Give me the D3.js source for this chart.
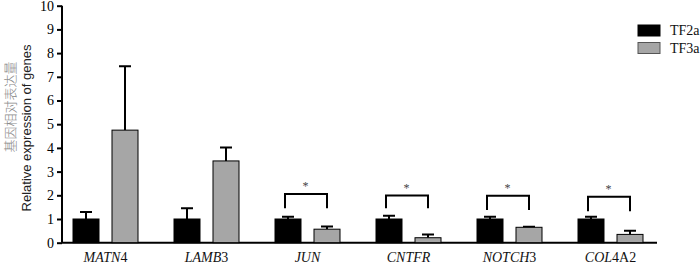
<!DOCTYPE html>
<html>
<head>
<meta charset="utf-8">
<script src="https://cdn.jsdelivr.net/npm/d3@7"></script>
<style>
  body { margin: 0; background: #fff; }
  text { font-family: "Liberation Serif", "Times New Roman", serif; }
</style>
</head>
<body>
<div id="chart"></div>
<script>
// Relative expression of genes, TF2a vs TF3a

const width = 700, height = 265;

const genes = ["MATN4", "LAMB3", "JUN", "CNTFR", "NOTCH3", "COL4A2"];
// italic part / upright part of each gene label
const geneItalic = ["MATN", "LAMB", "JUN", "CNTFR", "NOTCH", "COL"];
const geneUpright = ["4", "3", "", "", "3", "4A2"];
const series = ["TF2a", "TF3a"];
const tf2aValues = [1.0, 1.0, 1.0, 1.0, 1.0, 1.0];
const tf2aErrors = [0.3, 0.45, 0.1, 0.14, 0.1, 0.1];
const tf3aValues = [4.75, 3.45, 0.57, 0.21, 0.65, 0.35];
const tf3aErrors = [2.7, 0.57, 0.11, 0.14, 0.02, 0.15];
const significant = [false, false, true, true, true, true];
const bracketTop = [0, 0, 2.06, 1.99, 1.98, 1.94];
const bracketLeg = [0, 0, 1.45, 1.45, 1.38, 1.33];
const yTicks = [0, 1, 2, 3, 4, 5, 6, 7, 8, 9, 10];

const margin = { top: 6, left: 62, bottom: 22 };
const colors = { TF2a: "#000", TF3a: "#a6a6a6" };

const svg = d3.select("#chart")
  .append("svg")
  .attr("width", width)
  .attr("height", height);

const y = d3.scaleLinear()
  .domain([0, 10])
  .range([242.7, 5.7]);

const x = d3.scaleBand()
  .domain(genes)
  .range([55, 661]);

const barW = 26, offset = 19.5;

const data = genes.map((g, i) => ({
  gene: g, i,
  bars: [
    { key: "TF2a", value: tf2aValues[i], err: tf2aErrors[i], dx: -offset },
    { key: "TF3a", value: tf3aValues[i], err: tf3aErrors[i], dx: offset }
  ]
}));

const cx = (d, b) => x(d.gene) + x.bandwidth() / 2 + b.dx;

// y axis
const yAxis = svg.append("g")
  .attr("transform", `translate(${margin.left},0)`)
  .call(d3.axisLeft(y).tickValues(yTicks).tickSize(5).tickPadding(3));
yAxis.select(".domain").attr("stroke-width", 2).attr("d", `M0,${y(0)}V${y(10)}`);
yAxis.selectAll(".tick line").attr("stroke-width", 2);
yAxis.selectAll(".tick text")
  .attr("font-size", 14)
  .attr("fill", "#000");

// x axis line
svg.append("line")
  .attr("x1", margin.left).attr("x2", 657)
  .attr("y1", y(0)).attr("y2", y(0))
  .attr("stroke", "#000").attr("stroke-width", 2);

const groups = svg.append("g")
  .selectAll("g")
  .data(data)
  .join("g");

// error bars (behind the bars)
groups.selectAll("path.err")
  .data(d => d.bars.map(b => ({ ...b, cx: cx(d, b) })))
  .join("path")
  .attr("class", "err")
  .attr("d", b => `M${b.cx},${y(b.value)}V${y(b.value + b.err)}M${b.cx - 6},${y(b.value + b.err)}H${b.cx + 6}`)
  .attr("stroke", "#000")
  .attr("stroke-width", 2)
  .attr("fill", "none");

groups.selectAll("rect")
  .data(d => d.bars.map(b => ({ ...b, cx: cx(d, b) })))
  .join("rect")
  .attr("x", b => b.cx - barW / 2)
  .attr("y", b => y(b.value))
  .attr("width", barW)
  .attr("height", b => y(0) - y(b.value))
  .attr("fill", b => colors[b.key])
  .attr("stroke", "#000")
  .attr("stroke-width", 1);

// significance brackets
const sig = data.filter(d => significant[d.i]);
svg.append("g")
  .selectAll("path")
  .data(sig)
  .join("path")
  .attr("d", d => {
    const l = cx(d, d.bars[0]) - 3, r = cx(d, d.bars[1]);
    return `M${l},${y(bracketLeg[d.i])}V${y(bracketTop[d.i])}H${r}V${y(bracketLeg[d.i])}`;
  })
  .attr("stroke", "#000")
  .attr("stroke-width", 2)
  .attr("fill", "none");

svg.append("g")
  .selectAll("text")
  .data(sig)
  .join("text")
  .attr("x", d => x(d.gene) + x.bandwidth() / 2 - 2)
  .attr("y", d => y(bracketTop[d.i]) - 4)
  .attr("text-anchor", "middle")
  .attr("font-size", 12)
  .attr("fill", "#444")
  .text("*");

// gene labels
const lab = svg.append("g")
  .selectAll("text")
  .data(data)
  .join("text")
  .attr("x", d => x(d.gene) + x.bandwidth() / 2)
  .attr("y", 262)
  .attr("text-anchor", "middle")
  .attr("font-size", 14)
  .attr("fill", "#111");
lab.append("tspan").attr("font-style", "italic").text(d => geneItalic[d.i]);
lab.append("tspan").text(d => geneUpright[d.i]);

// y title
svg.append("text")
  .attr("transform", "translate(15,107) rotate(-90)")
  .attr("text-anchor", "middle")
  .style("font-size", "13px")
  .style("font-family", "'Noto Sans CJK SC'")
  .style("font-weight", 300)
  .attr("fill", "#888")
  .text("基因相对表达量");

svg.append("text")
  .attr("transform", "translate(31,128) rotate(-90)")
  .attr("text-anchor", "middle")
  .style("font-size", "13px")
  .style("font-family", "'Liberation Sans', Arial, sans-serif")
  .attr("fill", "#222")
  .text("Relative expression of genes");

// legend
const legend = svg.append("g")
  .selectAll("g")
  .data(series)
  .join("g")
  .attr("transform", (d, i) => `translate(638,${25 + i * 17.5})`);
legend.append("rect")
  .attr("width", 22).attr("height", 11)
  .attr("fill", d => colors[d])
  .attr("stroke", d => d === "TF3a" ? "#555" : "#000");
legend.append("text")
  .attr("x", 32).attr("y", 10)
  .attr("font-size", 14)
  .attr("fill", "#111")
  .text(d => d);
</script>
</body>
</html>
